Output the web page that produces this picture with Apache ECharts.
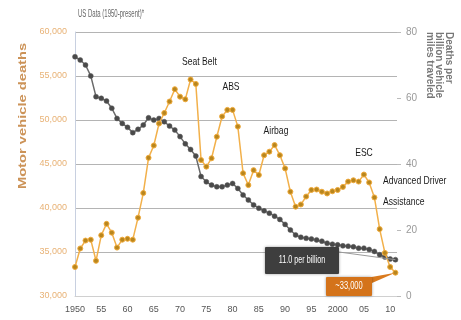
<!DOCTYPE html>
<html><head><meta charset="utf-8">
<script src="https://cdn.jsdelivr.net/npm/echarts@6/dist/echarts.min.js"></script>
<style>html,body{margin:0;padding:0;background:#fff}#c{width:461px;height:320px}</style>
</head><body><div id="c"></div>
<script>
const years = [];
for (let y = 1950; y <= 2011; y++) years.push(y);
const deaths = [33300,35400,36300,36400,34000,36900,38200,37200,35500,36400,
  36500,36400,38900,41700,45700,47100,49600,50800,52100,53500,
  52650,52350,54600,54100,45450,44700,45650,48100,50400,51150,
  51150,49250,43950,42600,44300,43750,46000,46400,47150,46000,
  44500,41850,40150,40400,41300,42050,42100,41850,41650,41900,
  42050,42400,43000,43150,43000,43800,42900,41200,37600,34900,
  33300,32650];
const rate = [72.5,71.5,70.0,66.7,60.4,59.9,59.1,56.9,53.8,52.3,
  51.1,49.5,50.5,51.8,54.0,53.3,53.8,52.8,51.5,50.3,
  48.3,46.1,44.4,42.4,36.2,34.6,33.6,33.1,33.1,33.6,
  34.1,32.6,30.6,29.1,27.6,26.6,25.8,25.1,24.2,23.2,
  21.7,20.0,18.5,17.8,17.5,17.3,17.0,16.6,16.0,15.7,
  15.5,15.2,15.1,14.9,14.5,14.5,14.1,13.5,12.5,11.8,
  11.2,11.0];
const xTickLabels = ['1950','55','60','65','70','75','80','85','90','95','2000','05','10'];
const leftTicks = ['30,000','35,000','40,000','45,000','50,000','55,000','60,000'];
const rightTicks = ['0','20','40','60','80'];
const safetyLabels = ['Seat Belt','ABS','Airbag','ESC','Advanced Driver\nAssistance'];
const title = 'US Data (1950-present)*';
const leftName = 'Motor vehicle deaths';
const rightName = 'Deaths per\nbillion vehicle\nmiles traveled';
const rateCallout = '11.0 per billion';
const deathCallout = '~33,000';

const FONT = '"Liberation Sans",Arial,sans-serif';
const chart = echarts.init(document.getElementById('c'));
chart.setOption({
  animation: false,
  backgroundColor: '#fff',
  grid: {left: 75, right: 64, top: 32, bottom: 24},
  xAxis: {
    type: 'value', min: 1950, max: 2011.3, interval: 5,
    axisLine: {show: true, lineStyle: {color: '#d0d0d0'}},
    axisTick: {show: false},
    splitLine: {show: false},
    showMaxLabel: false,
    axisLabel: {
      color: '#555', fontSize: 9, fontFamily: FONT, margin: 9,
      formatter: v => { const i = (v - 1950) / 5; return Number.isInteger(i) && xTickLabels[i] ? xTickLabels[i] : ''; }
    }
  },
  yAxis: [{
    type: 'value', min: 30000, max: 60000, interval: 5000,
    axisLine: {show: true, lineStyle: {color: '#c8d0e0'}},
    axisTick: {show: false},
    splitLine: {show: true, lineStyle: {color: '#b4b4b4', width: 1}},
    axisLabel: {color: '#e8b276', fontSize: 9, fontFamily: FONT, margin: 8,
      formatter: v => leftTicks[(v - 30000) / 5000] || ''}
  }, {
    type: 'value', min: 0, max: 80, interval: 20,
    axisLine: {show: false},
    axisTick: {show: true, length: 4, inside: false, lineStyle: {color: '#bbb'}},
    splitLine: {show: false},
    axisLabel: {color: '#999', fontSize: 10, fontFamily: FONT, margin: 9,
      formatter: v => rightTicks[v / 20] || ''}
  }],
  series: [{
    type: 'line', yAxisIndex: 1,
    data: years.map((y, i) => [y, rate[i]]),
    symbol: 'circle', symbolSize: 5,
    lineStyle: {color: '#6a6a6a', width: 1.5},
    itemStyle: {color: '#4a4a4a', borderColor: '#5a5a5a', borderWidth: 0.5},
    z: 3
  }, {
    type: 'line', yAxisIndex: 0,
    data: years.map((y, i) => [y, deaths[i]]),
    symbol: 'circle', symbolSize: 5,
    lineStyle: {color: '#f2b04a', width: 1.5},
    itemStyle: {color: '#b8861e', borderColor: '#f0aa3a', borderWidth: 1},
    z: 4
  }]
});

const n = years.length - 1;
const pRate = chart.convertToPixel({gridIndex: 0, xAxisIndex: 0, yAxisIndex: 1}, [years[n], rate[n]]);
const pDeath = chart.convertToPixel({gridIndex: 0, xAxisIndex: 0, yAxisIndex: 0}, [years[n], deaths[n]]);

const txt = (s, x, y, extra, sx) => Object.assign({type: 'text', x: x, y: y, z: 20, scaleX: sx || 0.78,
  style: Object.assign({text: s, fill: '#1a1a1a', font: '11px ' + FONT, textAlign: 'center', textVerticalAlign: 'middle'}, extra || {})});

chart.setOption({graphic: [
  txt(title, 78, 14, {fill: '#666', textAlign: 'left', font: '10px ' + FONT}, 0.6),
  {type: 'text', x: 23, y: 116, rotation: Math.PI / 2, scaleX: 1.4, z: 20,
   style: {text: leftName, fill: '#cc9358', font: 'bold 10.5px ' + FONT, textAlign: 'center', textVerticalAlign: 'middle'}},
  {type: 'text', x: 439, y: 32, rotation: -Math.PI / 2, z: 20,
   style: {text: rightName, fill: '#777', font: 'bold 10px ' + FONT, lineHeight: 9.5, textAlign: 'left', textVerticalAlign: 'middle'}},
  txt(safetyLabels[0], 182, 62, {textAlign: 'left'}),
  txt(safetyLabels[1], 231, 87),
  txt(safetyLabels[2], 276, 131),
  txt(safetyLabels[3], 364, 153),
  txt(safetyLabels[4], 383, 191, {textAlign: 'left', lineHeight: 21}),
  {type: 'line', z: 18, shape: {x1: 339, y1: 252, x2: pRate[0], y2: pRate[1]}, style: {stroke: '#9a9a9a', lineWidth: 1}},
  {type: 'rect', z: 19, shape: {x: 265, y: 247, width: 74, height: 27, r: 1},
   style: {fill: '#3e3e3e', shadowBlur: 3, shadowColor: 'rgba(0,0,0,0.4)'}},
  txt(rateCallout, 302, 260.5, {fill: '#fff', font: '10px ' + FONT}, 0.72),
  {type: 'polygon', z: 18, shape: {points: [[366, 278], [372, 283], [pDeath[0], pDeath[1]]]}, style: {fill: '#d97a1e'}},
  {type: 'rect', z: 19, shape: {x: 326, y: 277, width: 46, height: 19, r: 1},
   style: {fill: '#d4731a', shadowBlur: 3, shadowColor: 'rgba(0,0,0,0.4)'}},
  txt(deathCallout, 349, 286.5, {fill: '#fff', font: '10px ' + FONT}, 0.75)
]});
</script></body></html>
